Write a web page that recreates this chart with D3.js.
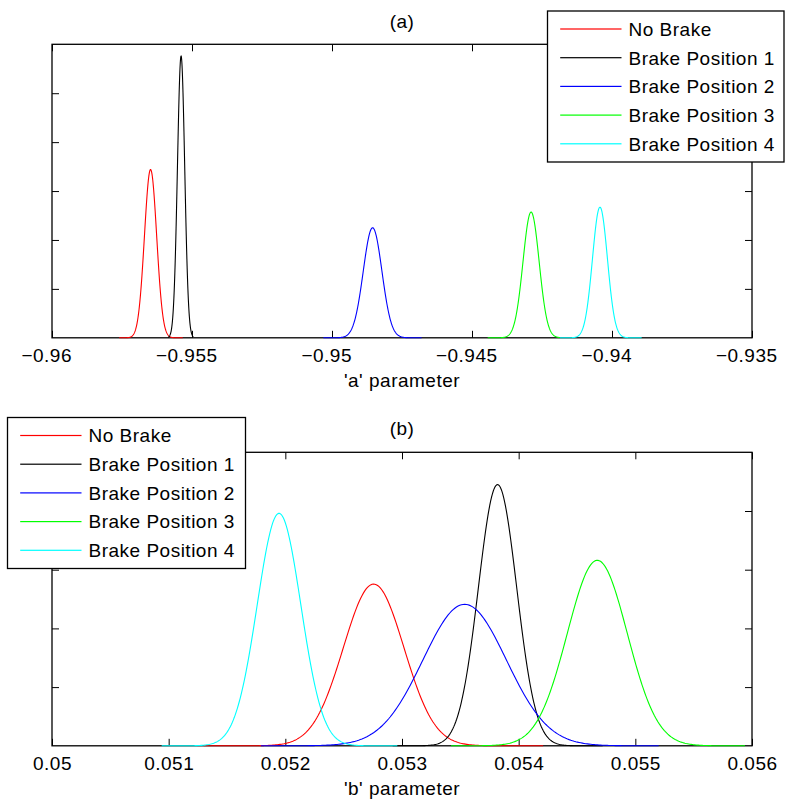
<!DOCTYPE html>
<html>
<head>
<meta charset="utf-8">
<script src="https://cdn.jsdelivr.net/npm/d3@7"></script>
<style>
  body { margin: 0; background: #fff; }
  svg text { font-family: "Liberation Sans", Arial, sans-serif; font-size: 19px; letter-spacing: 0.5px; fill: #000; }
</style>
</head>
<body>
<div id="chart"></div>
<script>
// series (same order in both panels)
const seriesNames = ["No Brake", "Brake Position 1", "Brake Position 2", "Brake Position 3", "Brake Position 4"];
const seriesColors = ["#ff0000", "#000000", "#0000ff", "#00ff00", "#00ffff"];

// (a) 'a' parameter: fitted normal densities, peak in axis tick units
const aMeans = [-0.95648, -0.95539, -0.94855, -0.94289, -0.94043];
const aSds   = [0.000218, 0.000130, 0.000333, 0.000288, 0.000267];
const aPeaks = [3.44, 5.76, 2.25, 2.57, 2.67];
const aFrom  = [-0.95760, -0.95585, -0.95031, -0.94444, -0.94186];
const aTo    = [-0.95533, -0.95495, -0.94680, -0.94186, -0.93894];
const aTicks = [-0.96, -0.955, -0.95, -0.945, -0.94, -0.935];
const aTickLabels = ["\u22120.96", "\u22120.955", "\u22120.95", "\u22120.945", "\u22120.94", "\u22120.935"];

// (b) 'b' parameter
const bMeans = [0.052757, 0.053819, 0.053537, 0.054674, 0.051946];
const bSds   = [0.000260, 0.000164, 0.000358, 0.000257, 0.000187];
const bPeaks = [2.755, 4.45, 2.41, 3.16, 3.96];
const bFrom  = [0.05130, 0.05292, 0.05179, 0.05342, 0.05094];
const bTo    = [0.05421, 0.05472, 0.05520, 0.05594, 0.05296];
const bTicks = [0.05, 0.051, 0.052, 0.053, 0.054, 0.055, 0.056];
const bTickLabels = ["0.05", "0.051", "0.052", "0.053", "0.054", "0.055", "0.056"];

const svg = d3.select("#chart").append("svg")
    .attr("width", 785)
    .attr("height", 803);

function density(m, s, p, x) {
    return p * Math.exp(-0.5 * ((x - m) / s) ** 2);
}

function drawPanel(p) {
    const width = 700, height = 293.5;
    const g = svg.append("g").attr("transform", `translate(${p.left},${p.top})`);

    const x = d3.scaleLinear().domain(d3.extent(p.ticks)).range([0, width]);
    const y = d3.scaleLinear().domain([0, p.yMax]).range([height, 0]);
    const yTicks = d3.range(1, p.yMax);
    const labelOf = d => p.tickLabels[p.ticks.indexOf(d)];

    // inward ticks on all four sides
    const bottom = g.append("g").attr("transform", `translate(0,${height})`)
        .call(d3.axisBottom(x).tickValues(p.ticks).tickSize(-7).tickSizeOuter(0).tickPadding(11)
            .tickFormat(d => labelOf(d).replace("\u2212", "")))
        .call(a => a.select(".domain").remove());
    g.append("g")
        .call(d3.axisTop(x).tickValues(p.ticks).tickSize(-7).tickSizeOuter(0).tickFormat(""))
        .call(a => a.select(".domain").remove());
    g.append("g")
        .call(d3.axisLeft(y).tickValues(yTicks).tickSize(-7).tickSizeOuter(0).tickFormat(""))
        .call(a => a.select(".domain").remove());
    g.append("g").attr("transform", `translate(${width},0)`)
        .call(d3.axisRight(y).tickValues(yTicks).tickSize(-7).tickSizeOuter(0).tickFormat(""))
        .call(a => a.select(".domain").remove());

    g.selectAll(".tick line").attr("stroke", "#000").attr("stroke-width", 1);

    // matlab style: number centred on tick, minus sign hanging left
    bottom.selectAll(".tick text").each(function(d) {
        if (labelOf(d)[0] !== "\u2212") return;
        const t = d3.select(this);
        const w = this.getComputedTextLength();
        d3.select(this.parentNode).append("text")
            .attr("x", -w / 2)
            .attr("y", t.attr("y"))
            .attr("dy", t.attr("dy"))
            .attr("text-anchor", "end")
            .text("\u2212");
    });

    g.append("rect")
        .attr("width", width).attr("height", height)
        .attr("fill", "none").attr("stroke", "#000").attr("stroke-width", 1.3);

    const line = d3.line().x(d => x(d[0])).y(d => y(d[1]));
    seriesNames.forEach((name, i) => {
        const pts = d3.range(0, 241).map(k => {
            const xv = p.from[i] + (p.to[i] - p.from[i]) * k / 240;
            return [xv, density(p.means[i], p.sds[i], p.peaks[i], xv)];
        });
        g.append("path")
            .datum(pts)
            .attr("fill", "none")
            .attr("stroke", seriesColors[i])
            .attr("stroke-width", 1.1)
            .attr("d", line);
    });

    g.append("text")
        .attr("x", width / 2).attr("y", p.titleY)
        .attr("text-anchor", "middle")
        .text(p.title);
    g.append("text")
        .attr("x", width / 2).attr("y", height + 49.5)
        .attr("text-anchor", "middle")
        .text(p.xLabel);

    // legend
    const lg = svg.append("g").attr("transform", `translate(${p.legend[0]},${p.legend[1]})`);
    lg.append("rect")
        .attr("width", p.legend[2]).attr("height", 151)
        .attr("fill", "#fff").attr("stroke", "#000").attr("stroke-width", 1.3);
    seriesNames.forEach((name, i) => {
        const cy = 18 + i * 28.7;
        lg.append("rect")
            .attr("x", 12.7).attr("width", 61.3)
            .attr("y", cy - 0.6).attr("height", 1.2)
            .attr("fill", seriesColors[i]);
        lg.append("text")
            .attr("x", 81).attr("y", cy).attr("dy", "0.36em")
            .text(name);
    });
}

drawPanel({
    left: 52, top: 44.3, yMax: 6,
    ticks: aTicks, tickLabels: aTickLabels,
    means: aMeans, sds: aSds, peaks: aPeaks, from: aFrom, to: aTo,
    title: "(a)", titleY: -16.5, xLabel: "'a' parameter",
    legend: [547.5, 11, 236.5]
});

drawPanel({
    left: 52, top: 452.3, yMax: 5,
    ticks: bTicks, tickLabels: bTickLabels,
    means: bMeans, sds: bSds, peaks: bPeaks, from: bFrom, to: bTo,
    title: "(b)", titleY: -17.5, xLabel: "'b' parameter",
    legend: [7.5, 417.5, 238]
});
</script>
</body>
</html>
